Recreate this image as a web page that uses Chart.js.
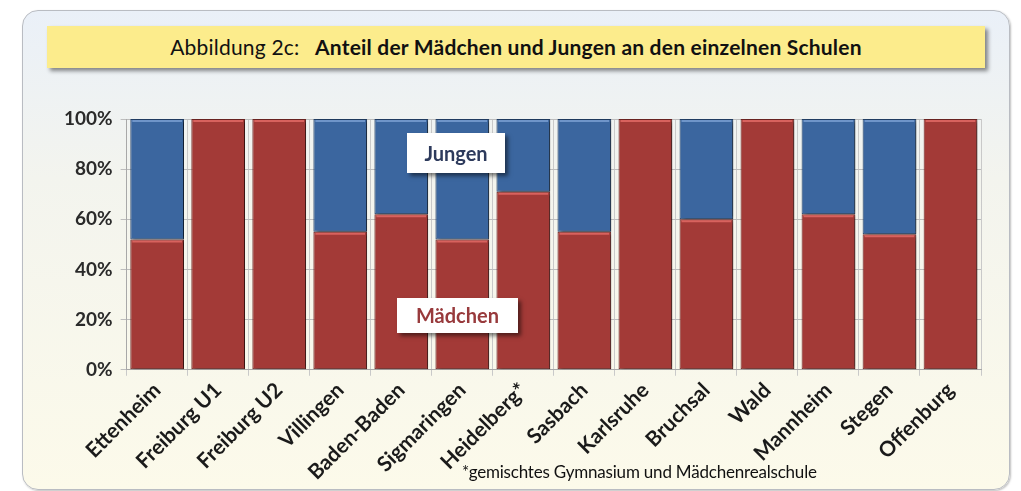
<!DOCTYPE html>
<html>
<head>
<meta charset="utf-8">
<script src="https://cdn.jsdelivr.net/npm/chart.js@4"></script>
<style>
  html, body { margin: 0; padding: 0; background: #fff; }
  #wrap { position: relative; width: 1021px; height: 491px; overflow: hidden; font-family: Lato, "Open Sans", sans-serif; }
  #card {
    position: absolute; left: 22px; top: 10px; width: 986px; height: 478px;
    border: 1px solid #b9bcc2; border-radius: 16px;
    background: linear-gradient(#eaf0f8 0%, #f3f4ee 35%, #fcfaea 100%);
    box-shadow: 1px 1px 2px rgba(0,0,0,0.25);
  }
  #titel {
    position: absolute; left: 47px; top: 26px; width: 938px; height: 42px;
    background: #fcec8c; box-shadow: 3px 3px 4px rgba(0,0,0,0.45);
    text-align: center; line-height: 42px; font-size: 21px; color: #111; letter-spacing: 0.2px;
  }
  #titel b { margin-left: 10px; }
  canvas#grafik { position: absolute; left: 0; top: 0; }
  .etikett {
    position: absolute; background: #fff; text-align: center; font-weight: bold; font-size: 20px;
    box-shadow: 3px 3px 4px rgba(0,0,0,0.5);
  }
  #jungen { left: 407px; top: 133px; width: 98px; height: 40px; line-height: 40px; color: #2d3a5c; }
  #maedchen { left: 397px; top: 298px; width: 121px; height: 35px; line-height: 35px; color: #983a3c; }
  #fussnote { position: absolute; left: 462px; top: 461px; font-size: 17px; color: #111; letter-spacing: -0.2px; }
</style>
</head>
<body>
<div id="wrap">
  <div id="card"></div>
  <div id="titel">Abbildung 2c: <b>Anteil der Mädchen und Jungen an den einzelnen Schulen</b></div>
  <canvas id="grafik" width="1021" height="491"></canvas>
  <div class="etikett" id="jungen">Jungen</div>
  <div class="etikett" id="maedchen">Mädchen</div>
  <div id="fussnote">*gemischtes Gymnasium und Mädchenrealschule</div>
</div>
<script>
// =======================
// DATEN
// =======================
const schulen = ["Ettenheim", "Freiburg U1", "Freiburg U2", "Villingen", "Baden-Baden", "Sigmaringen",
  "Heidelberg*", "Sasbach", "Karlsruhe", "Bruchsal", "Wald", "Mannheim", "Stegen", "Offenburg"];
const maedchen = [52, 100, 100, 55, 62, 52, 71, 55, 100, 60, 100, 62, 54, 100];
const jungen   = [48, 0, 0, 45, 38, 48, 29, 45, 0, 40, 0, 38, 46, 0];
const yTicks = [0, 20, 40, 60, 80, 100];

// Schatten rechts neben den Balken
const schatten = {
  id: "schatten",
  beforeDatasetsDraw(chart) {
    const ctx = chart.ctx;
    ctx.save();
    ctx.shadowColor = "rgba(0,0,0,0.55)";
    ctx.shadowOffsetX = 3;
    ctx.shadowOffsetY = 1;
    ctx.shadowBlur = 3;
  },
  afterDatasetsDraw(chart) {
    const ctx = chart.ctx;
    ctx.restore();
    // helle Kante oben an jedem Segment
    const farben = ["#d8625e", "#6f95c9"];
    chart.data.datasets.forEach((ds, i) => {
      chart.getDatasetMeta(i).data.forEach((bar, j) => {
        if (!ds.data[j]) return;
        const p = bar.getProps(["x", "y", "width"], true);
        ctx.save();
        ctx.strokeStyle = farben[i];
        ctx.lineWidth = 2;
        ctx.beginPath();
        ctx.moveTo(p.x - p.width / 2 + 2, p.y + 2);
        ctx.lineTo(p.x + p.width / 2 - 2, p.y + 2);
        ctx.stroke();
        ctx.restore();
      });
    });
  }
};

new Chart(document.getElementById("grafik"), {
  type: "bar",
  data: {
    labels: schulen,
    datasets: [
      { label: "Mädchen", data: maedchen, backgroundColor: "#a33a37", borderColor: "#6e2422", borderWidth: 1, borderSkipped: false },
      { label: "Jungen", data: jungen, backgroundColor: "#3b669f", borderColor: "#223f66", borderWidth: 1, borderSkipped: false }
    ]
  },
  options: {
    responsive: false,
    animation: false,
    events: [],
    layout: { padding: { left: 56, top: 119, right: 40, bottom: 4 } },
    datasets: { bar: { categoryPercentage: 1, barPercentage: 0.88 } },
    plugins: { legend: { display: false }, tooltip: { enabled: false } },
    scales: {
      x: {
        stacked: true,
        grid: { offset: true, color: "#c9c9c9", tickLength: 6, drawOnChartArea: true },
        border: { color: "#a8a8a8" },
        ticks: {
          color: "#1a1a1a", maxRotation: 45, minRotation: 45, padding: 2,
          font: { family: "Lato", size: 21, weight: "bold" }
        }
      },
      y: {
        stacked: true, min: 0, max: 100,
        afterBuildTicks(axis) { axis.ticks = yTicks.map(v => ({ value: v })); },
        grid: { color: "#bdbdbd", tickLength: 6 },
        border: { color: "#a8a8a8" },
        ticks: {
          color: "#2a2a2a", padding: 8,
          font: { family: "Lato", size: 19, weight: "bold" },
          callback: v => v + "%"
        }
      }
    }
  },
  plugins: [schatten]
});
</script>
</body>
</html>
